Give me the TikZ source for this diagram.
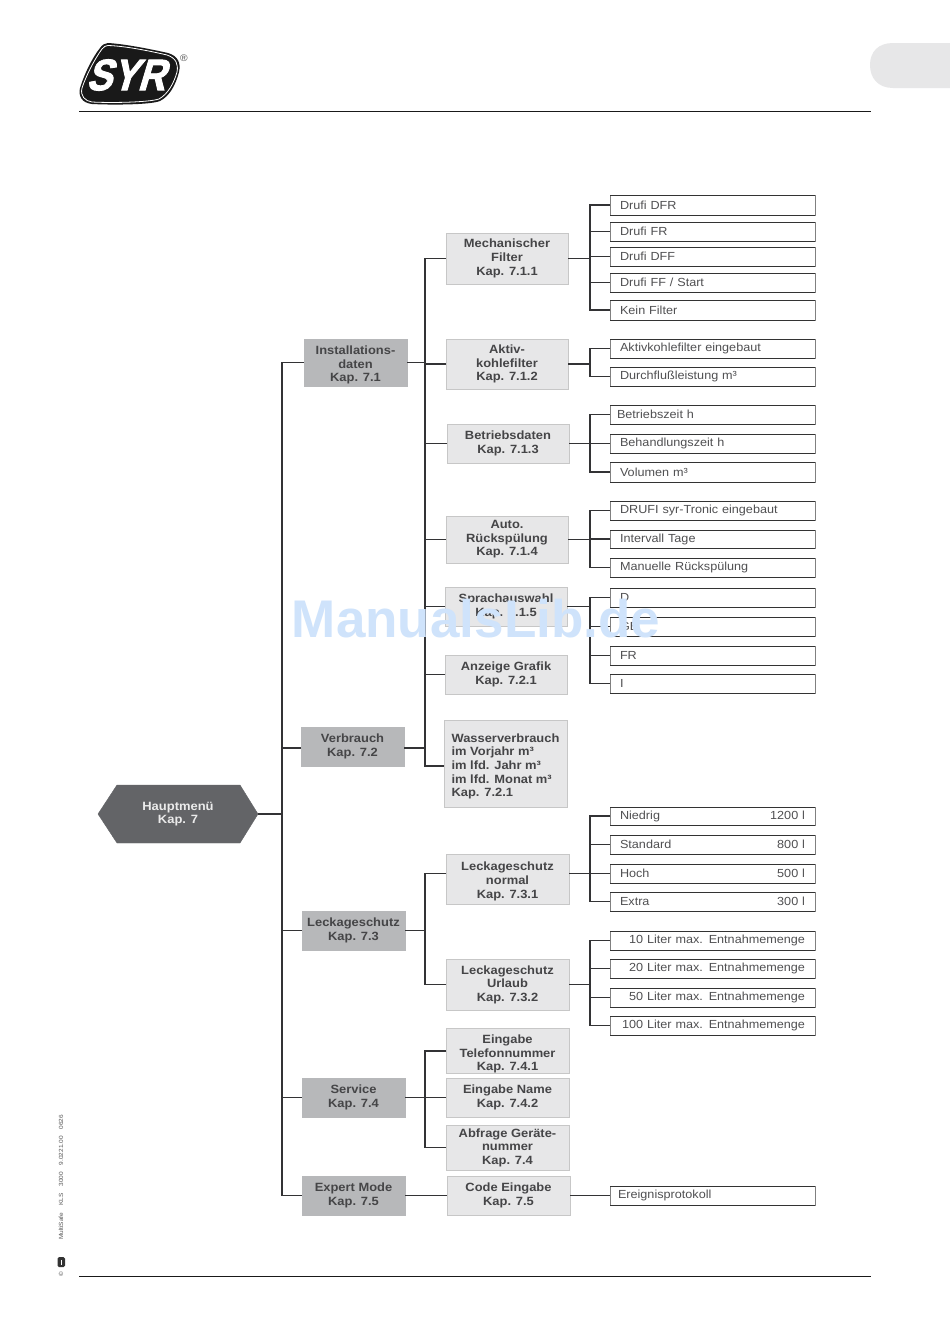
\documentclass[tikz,border=0pt]{standalone}
\usepackage{fontspec}
\setmainfont[FakeStretch=1.08]{Liberation Sans}
\newfontfamily\logofont[FakeBold=2.2]{Liberation Sans Bold}
\newfontfamily\wmfont{Liberation Sans Bold}
\definecolor{ink}{HTML}{454547}
\definecolor{leafink}{HTML}{505052}
\definecolor{wire}{HTML}{333335}
\definecolor{hexfill}{HTML}{636467}
\definecolor{lvlone}{HTML}{B7B8BA}
\definecolor{lvltwo}{HTML}{E7E7E8}
\definecolor{wmark}{HTML}{CFE3FB}
\tikzset{
  hexa/.style={fill=hexfill,draw=hexfill},
  boxbase/.style={align=center,font=\fontsize{11.95}{13.6}\selectfont\bfseries,text=ink,inner sep=0pt,outer sep=0pt},
  one/.style={boxbase,fill=lvlone,draw=lvlone,line width=.6pt},
  two/.style={boxbase,fill=lvltwo,draw=black!22,line width=.6pt},
  leaf/.style={draw=black!50,fill=white,line width=.6pt,minimum width=205pt,text width=185pt,align=left,inner xsep=10pt,inner ysep=0pt,outer sep=0pt,font=\fontsize{11.7}{13.6}\selectfont,text=leafink},
  wirel/.style={draw=wire,line width=1.3pt},
  edge/.style={draw=black!80,line width=.95pt},
  rule/.style={draw=black!90,line width=1pt},
  sidelabel/.style={rotate=90,font=\fontsize{6}{6}\selectfont,text=black!65,inner sep=0pt}
}
\newcommand{\bump}[1]{\rule{0pt}{#1pt}}
\begin{document}
\begin{tikzpicture}[x=1pt,y=-1pt]
\useasboundingbox (0,0) rectangle (950,1344);
\fill[white] (0,0) rectangle (950,1344);

% header, footer, tab
\coordinate (hl) at (79,111); \coordinate (hr) at (871,111);
\coordinate (fl) at (79,1276); \coordinate (fr) at (871,1276);
\draw[rule] (hl) -- (hr);
\draw[rule] (fl) -- (fr);
\fill[lvltwo] (950,43) -- (893,43) .. controls (878,43) and (870,52) .. (870,65) .. controls (870,78) and (878,88) .. (893,88) -- (950,88) -- cycle;

% logo
\fill[black!90] (108,43) .. controls (125,44) and (150,49) .. (168,53) .. controls (178,56) and (181,63) .. (179,72) .. controls (176,84) and (170,96) .. (160,101) .. controls (150,105) and (110,105) .. (92,104) .. controls (82,103) and (78,96) .. (80,88) .. controls (84,75) and (92,58) .. (100,48) .. controls (102,45) and (105,43) .. (108,43) -- cycle;
\draw[white,line width=.8pt] (108,45.5) .. controls (125,46) and (150,51) .. (167,55) .. controls (176,58) and (178.5,64) .. (177,72) .. controls (174,83) and (168,94) .. (159,99) .. controls (148,102.5) and (110,103) .. (92,102) .. controls (85,101) and (80,96) .. (82,88) .. controls (86,76) and (94,60) .. (102,49) .. controls (104,46.5) and (106,45.5) .. (108,45.5) -- cycle;
\node[font=\logofont\fontsize{44}{44}\selectfont,text=white,inner sep=0pt,xslant=.3,xscale=.87] (logotext) at (130,75) {SYR};
\node[font=\fontsize{9.5}{9.5}\selectfont,text=black!70,inner sep=0pt] (regmark) at (184,58.5) {®};

% side text
\node[sidelabel,anchor=west] (sidetext) at (61,1240) {MultiSafe\hspace{7pt}KLS\hspace{7pt}3000\hspace{7pt}9.0221.00\hspace{7pt}0626};
\node[sidelabel] (sidecopy) at (61,1274.5) {©};
\fill[black!80,rounded corners=1.5pt] (57.5,1257) rectangle (65,1267);
\fill[white] (60.5,1259.5) rectangle (61.5,1264.5);

% root
\coordinate (h1p) at (98,814); \coordinate (h2p) at (117,785); \coordinate (h3p) at (240,785);
\coordinate (h4p) at (258,814); \coordinate (h5p) at (240,843); \coordinate (h6p) at (117,843);
\fill[hexa] (h1p) -- (h2p) -- (h3p) -- (h4p) -- (h5p) -- (h6p) -- cycle;
\node[font=\fontsize{12}{13.6}\selectfont\bfseries,text=white!92!black,align=center,inner sep=0pt] (root) at (178,814) {Hauptmenü\\Kap. 7};

\newcommand{\onebox}[6]{\node[one,minimum width=#3 pt-#2 pt,minimum height=#5 pt-#4 pt] (#1) at ({(#2+#3)/2},{(#4+#5)/2}) {#6};}
\newcommand{\twobox}[6]{\node[two,minimum width=#3 pt-#2 pt,minimum height=#5 pt-#4 pt] (#1) at ({(#2+#3)/2},{(#4+#5)/2}) {#6};}
\newcommand{\leafbox}[4]{\node[leaf,minimum height=#3 pt-#2 pt] (#1) at (712.5,{(#2+#3)/2}) {#4};}

\coordinate (mx) at (282,0);
\coordinate (tx) at (425,0);
\coordinate (jx) at (590,0);

\onebox{inst}{304}{407}{339}{386}{\bump{13.5}Installations-\\daten\\Kap. 7.1}
\onebox{verb}{301}{404}{727}{766}{Verbrauch\\Kap. 7.2}
\onebox{leck}{302}{405}{911}{950}{Leckageschutz\\Kap. 7.3}
\onebox{serv}{302}{405}{1078}{1117}{Service\\Kap. 7.4}
\onebox{expt}{302}{405}{1176}{1215}{Expert Mode\\Kap. 7.5}

\twobox{mech}{446}{568}{233}{284}{Mechanischer\\Filter\\Kap. 7.1.1}
\twobox{aktv}{446}{568}{339}{389}{Aktiv-\\kohlefilter\\Kap. 7.1.2}
\twobox{betr}{447}{569}{424}{463}{Betriebsdaten\\Kap. 7.1.3}
\twobox{auto}{446}{568}{516}{563}{Auto.\\Rückspülung\\Kap. 7.1.4}
\twobox{spra}{445}{567}{587}{626}{Sprachauswahl\\Kap. 7.1.5}
\twobox{anze}{445}{567}{655}{694}{Anzeige Grafik\\Kap. 7.2.1}
\node[two,align=left,minimum width=123pt,minimum height=87pt] (wass) at (505.5,763.5) {\bump{14.5}Wasserverbrauch\\im Vorjahr m³\\im lfd. Jahr m³\\im lfd. Monat m³\\Kap. 7.2.1};
\twobox{lnor}{446}{569}{854}{904}{\bump{13.5}Leckageschutz\\normal\\Kap. 7.3.1}
\twobox{lurl}{446}{569}{959}{1010}{Leckageschutz\\Urlaub\\Kap. 7.3.2}
\twobox{etel}{446}{569}{1029}{1073}{\bump{15}Eingabe\\Telefonnummer\\Kap. 7.4.1}
\twobox{enam}{446}{569}{1078}{1117}{Eingabe Name\\Kap. 7.4.2}
\twobox{abfr}{446}{569}{1125}{1170}{Abfrage Geräte-\\nummer\\Kap. 7.4}
\twobox{code}{447}{570}{1176}{1215}{Code Eingabe\\Kap. 7.5}

\leafbox{a1}{195}{215}{Drufi DFR}
\leafbox{a2}{222}{241}{Drufi FR}
\leafbox{a3}{247}{266}{Drufi DFF}
\leafbox{a4}{273}{292}{Drufi FF / Start}
\leafbox{a5}{300}{320}{Kein Filter}
\leafbox{b1}{339}{358}{Aktivkohlefilter eingebaut}
\leafbox{b2}{367}{386}{Durchflußleistung m³}
\leafbox{c1}{405}{424}{\hspace*{-3pt}Betriebszeit h}
\leafbox{c2}{434}{453}{Behandlungszeit h}
\leafbox{c3}{462}{482}{Volumen m³}
\leafbox{d1}{501}{520}{DRUFI syr-Tronic eingebaut}
\leafbox{d2}{530}{548}{Intervall Tage}
\leafbox{d3}{558}{577}{Manuelle Rückspülung}
\leafbox{e1}{588}{607}{D}
\leafbox{e2}{617}{636}{GB}
\leafbox{e3}{646}{665}{FR}
\leafbox{e4}{674}{693}{I}
\leafbox{f1}{807}{825}{Niedrig\hfill 1200 l}
\leafbox{f2}{835}{854}{Standard\hfill 800 l}
\leafbox{f3}{864}{883}{Hoch\hfill 500 l}
\leafbox{f4}{892}{911}{Extra\hfill 300 l}
\leafbox{g1}{931}{950}{\hfill\mbox{10 Liter max. Entnahmemenge}}
\leafbox{g2}{959}{978}{\hfill\mbox{20 Liter max. Entnahmemenge}}
\leafbox{g3}{988}{1007}{\hfill\mbox{50 Liter max. Entnahmemenge}}
\leafbox{g4}{1016}{1035}{\hfill\mbox{100 Liter max. Entnahmemenge}}
\leafbox{h1}{1186}{1205}{\hspace*{-2pt}Ereignisprotokoll}

% heavier top and bottom edges of the leaf boxes
\foreach \n in {a1,a2,a3,a4,a5,b1,b2,c1,c2,c3,d1,d2,d3,e1,e2,e3,e4,f1,f2,f3,f4,g1,g2,g3,g4,h1}{
  \draw[edge] (\n.north west) -- (\n.north east);
  \draw[edge] (\n.south west) -- (\n.south east);
}

% main trunk
\draw[wirel] (h4p) -- (h4p -| mx);
\draw[wirel] (inst.west) -- (inst.west -| mx) -- (expt.west -| mx) -- (expt.west);
\draw[wirel] ([yshift=-1.5pt]verb.west) -- ([yshift=-1.5pt]verb.west -| mx);
\draw[wirel] (leck.west) -- (leck.west -| mx);
\draw[wirel] (serv.west) -- (serv.west -| mx);
% second trunk
\coordinate (wstub) at (444,766);
\draw[wirel] (mech.west) -- (mech.west -| tx) -- (wstub -| tx) -- (wstub);
\draw[wirel] (inst.east) -- (inst.east -| tx);
\draw[wirel] ([yshift=-1.5pt]verb.east) -- ([yshift=-1.5pt]verb.east -| tx);
\foreach \n in {aktv,betr,auto,spra,anze}{\draw[wirel] (\n.west) -- (\n.west -| tx);}
% Leckageschutz and Service trunks
\coordinate (lnl) at (446,873.5); \coordinate (lnr) at (569,873.5);
\draw[wirel] (leck.east) -- (leck.east -| tx);
\draw[wirel] (lnl) -| (leck.east -| tx);
\draw[wirel] (lurl.west) -| (leck.east -| tx);
\draw[wirel] (serv.east) -- (enam.west);
\draw[wirel] (etel.west) -| (serv.east -| tx);
\draw[wirel] (abfr.west) -| (serv.east -| tx);
\draw[wirel] (expt.east) -- (code.west);
\draw[wirel] (code.east) -- (code.east -| h1.west);
% leaf trunks
\draw[wirel] (mech.east) -- (mech.east -| jx);
\foreach \n in {a1,a2,a3,a4,a5}{\draw[wirel] (\n.west) -| (mech.east -| jx);}
\draw[wirel] (aktv.east) -- (aktv.east -| jx);
\foreach \n in {b1,b2}{\draw[wirel] (\n.west) -| (aktv.east -| jx);}
\draw[wirel] (betr.east) -- (betr.east -| jx);
\foreach \n in {c1,c2,c3}{\draw[wirel] (\n.west) -| (betr.east -| jx);}
\draw[wirel] (auto.east) -- (auto.east -| jx);
\foreach \n in {d1,d2,d3}{\draw[wirel] (\n.west) -| (auto.east -| jx);}
\draw[wirel] (spra.east) -- (spra.east -| jx);
\foreach \n in {e1,e2,e3,e4}{\draw[wirel] (\n.west) -| (spra.east -| jx);}
\draw[wirel] (lnr) -- (lnr -| jx);
\foreach \n in {f1,f2,f3,f4}{\draw[wirel] (\n.west) -| (lnr -| jx);}
\draw[wirel] (lurl.east) -- (lurl.east -| jx);
\foreach \n in {g1,g2,g3,g4}{\draw[wirel] (\n.west) -| (lurl.east -| jx);}

% watermark
\node[font=\wmfont\fontsize{53}{53}\selectfont,text=wmark,inner sep=0pt] (watermark) at (476,619) {ManualsLib.de};
\end{tikzpicture}
\end{document}
